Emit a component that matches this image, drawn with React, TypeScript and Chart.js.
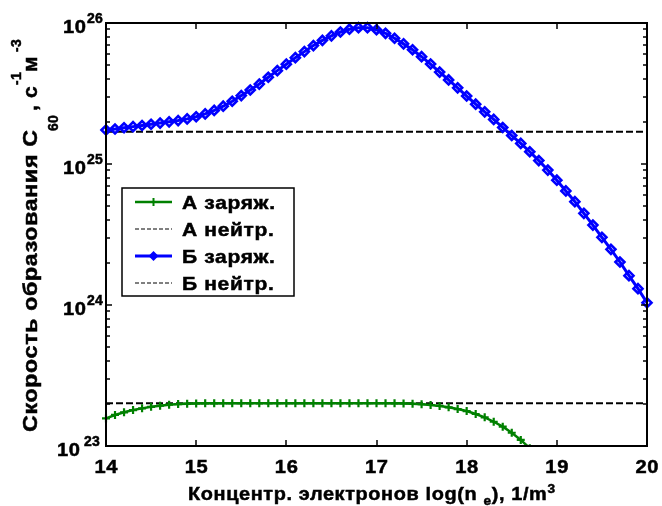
import React, { useEffect, useRef } from "react";
import { Chart, registerables } from "chart.js";

Chart.register(...registerables);

// ---------- data ----------
const X_VALUES = [
  14.0, 14.1, 14.2, 14.3, 14.4, 14.5, 14.6, 14.7, 14.8, 14.9,
  15.0, 15.1, 15.2, 15.3, 15.4, 15.5, 15.6, 15.7, 15.8, 15.9,
  16.0, 16.1, 16.2, 16.3, 16.4, 16.5, 16.6, 16.7, 16.8, 16.9,
  17.0, 17.1, 17.2, 17.3, 17.4, 17.5, 17.6, 17.7, 17.8, 17.9,
  18.0, 18.1, 18.2, 18.3, 18.4, 18.5, 18.6, 18.7, 18.8, 18.9,
  19.0, 19.1, 19.2, 19.3, 19.4, 19.5, 19.6, 19.7, 19.8, 19.9,
  20.0,
];

// "А заряж." (ends where it leaves the axes, ~18.7)
const A_CHARGED = [
  1.57e23, 1.66e23, 1.734e23, 1.799e23, 1.849e23, 1.897e23, 1.932e23, 1.963e23, 1.982e23, 1.995e23,
  2.004e23, 2.007e23, 2.009e23, 2.01e23, 2.01e23, 2.011e23, 2.011e23, 2.011e23, 2.011e23, 2.011e23,
  2.011e23, 2.011e23, 2.011e23, 2.011e23, 2.011e23, 2.011e23, 2.011e23, 2.011e23, 2.011e23, 2.011e23,
  2.011e23, 2.01e23, 2.008e23, 2.003e23, 1.993e23, 1.977e23, 1.954e23, 1.923e23, 1.88e23, 1.828e23,
  1.77e23, 1.687e23, 1.596e23, 1.486e23, 1.371e23, 1.242e23, 1.104e23, 0.964e23,
];

// "Б заряж."
const B_CHARGED = [
  1.742e25, 1.77e25, 1.807e25, 1.841e25, 1.875e25, 1.914e25, 1.95e25, 1.991e25, 2.032e25, 2.089e25,
  2.163e25, 2.265e25, 2.399e25, 2.57e25, 2.786e25, 3.055e25, 3.35e25, 3.69e25, 4.121e25, 4.592e25,
  5.105e25, 5.675e25, 6.266e25, 6.918e25, 7.534e25, 8.11e25, 8.63e25, 9.036e25, 9.268e25, 9.268e25,
  8.954e25, 8.453e25, 7.798e25, 7.112e25, 6.457e25, 5.768e25, 5.117e25, 4.487e25, 3.945e25, 3.467e25,
  3.034e25, 2.655e25, 2.344e25, 2.07e25, 1.816e25, 1.592e25, 1.4e25, 1.222e25, 1.057e25, 9.057e24,
  7.674e24, 6.442e24, 5.408e24, 4.467e24, 3.69e24, 3.02e24, 2.483e24, 2.018e24, 1.614e24, 1.306e24,
  1.038e24,
];

const A_NEUTRAL = 2.01e23; // "А нейтр."
const B_NEUTRAL = 1.69e25; // "Б нейтр."

const SERIES_LABELS = ["А заряж.", "А нейтр.", "Б заряж.", "Б нейтр."];
const X_TICKS = [14, 15, 16, 17, 18, 19, 20];
const X_TICK_LABELS = ["14", "15", "16", "17", "18", "19", "20"];
const Y_DECADES = [23, 24, 25, 26];
const Y_MINOR_MULT = [2, 3, 4, 5, 6, 7, 8, 9];

const X_MIN = 14;
const X_MAX = 20;
const Y_MIN = 1e23;
const Y_MAX = 1e26;

// ---------- styling helpers ----------
const FONT = '"Liberation Sans", Arial, Helvetica, sans-serif';
const GREEN = "#008000";
const BLUE = "#0000ff";
const LS = 0.6; // letter spacing (px)

type Piece = { text: string; size: number; dy?: number; gap?: number };

function setFont(ctx: CanvasRenderingContext2D, size: number) {
  ctx.font = `bold ${size}px ${FONT}`;
}

function natural(ctx: CanvasRenderingContext2D, t: string, size: number) {
  setFont(ctx, size);
  (ctx as any).letterSpacing = "0px";
  return ctx.measureText(t).width;
}

function richWidth(ctx: CanvasRenderingContext2D, pieces: Piece[], ls: number) {
  let w = 0;
  pieces.forEach((p) => {
    w += natural(ctx, p.text, p.size) + ls * p.text.length + (p.gap || 0);
  });
  return w - ls;
}

function fitScale(ctx: CanvasRenderingContext2D, pieces: Piece[], target: number, ls = LS) {
  return target / richWidth(ctx, pieces, ls);
}

function drawRich(
  ctx: CanvasRenderingContext2D,
  pieces: Piece[],
  x: number,
  y: number,
  sx = 1,
  ls = LS
) {
  let cx = x;
  ctx.textAlign = "left";
  ctx.textBaseline = "alphabetic";
  pieces.forEach((p) => {
    cx += (p.gap || 0) * sx;
    ctx.save();
    ctx.translate(cx, y + (p.dy || 0));
    ctx.scale(sx, 1);
    setFont(ctx, p.size);
    (ctx as any).letterSpacing = `${ls}px`;
    ctx.fillText(p.text, 0, 0);
    ctx.lineWidth = 0.5;
    ctx.strokeStyle = ctx.fillStyle;
    ctx.strokeText(p.text, 0, 0);
    ctx.restore();
    cx += (natural(ctx, p.text, p.size) + ls * p.text.length) * sx;
  });
  (ctx as any).letterSpacing = "0px";
}

function line(ctx: CanvasRenderingContext2D, x1: number, y1: number, x2: number, y2: number) {
  ctx.beginPath();
  ctx.moveTo(x1, y1);
  ctx.lineTo(x2, y2);
  ctx.stroke();
}

function diamond(ctx: CanvasRenderingContext2D, x: number, y: number, r: number) {
  ctx.beginPath();
  ctx.moveTo(x, y - r);
  ctx.lineTo(x + r, y);
  ctx.lineTo(x, y + r);
  ctx.lineTo(x - r, y);
  ctx.closePath();
}

const decorPlugin = {
  id: "decor",
  afterDraw(chart: any) {
    const { ctx, chartArea: a, scales } = chart;
    const xs = scales.x;
    const ys = scales.y;
    ctx.save();
    ctx.fillStyle = "#000";
    ctx.strokeStyle = "#000";

    // axes box
    ctx.lineWidth = 2;
    ctx.setLineDash([]);
    ctx.strokeRect(a.left, a.top, a.right - a.left, a.bottom - a.top);

    // x ticks (inward, bottom & top)
    ctx.lineWidth = 1.5;
    X_TICKS.forEach((t) => {
      const px = Math.round(xs.getPixelForValue(t));
      line(ctx, px, a.bottom, px, a.bottom - 6);
      line(ctx, px, a.top, px, a.top + 6);
    });
    // y ticks (inward, left & right)
    Y_DECADES.forEach((d) => {
      const py = Math.round(ys.getPixelForValue(Math.pow(10, d)));
      line(ctx, a.left, py, a.left + 6, py);
      line(ctx, a.right, py, a.right - 6, py);
      if (d < 26) {
        Y_MINOR_MULT.forEach((m) => {
          const pm = Math.round(ys.getPixelForValue(m * Math.pow(10, d)));
          line(ctx, a.left, pm, a.left + 4, pm);
          line(ctx, a.right, pm, a.right - 4, pm);
        });
      }
    });

    ctx.fillStyle = "#000";
    // x tick labels
    X_TICKS.forEach((t, i) => {
      const px = xs.getPixelForValue(t);
      const pieces = [{ text: X_TICK_LABELS[i], size: 19 }];
      const sx = fitScale(ctx, pieces, 23);
      drawRich(ctx, pieces, px - 11.5, a.bottom + 27, sx);
    });

    // y tick labels 10^n
    Y_DECADES.forEach((d) => {
      const py = ys.getPixelForValue(Math.pow(10, d));
      const left = d === 23 ? 57 : 63;
      const supX = d === 23 ? 84 : 87;
      const p10 = [{ text: "10", size: 19 }];
      drawRich(ctx, p10, left, py + 9.5, fitScale(ctx, p10, 23));
      drawRich(ctx, [{ text: String(d), size: 14 }], supX, py - 0.5, 1, 0.3);
    });

    // x title
    const xt: Piece[] = [
      { text: "Концентр. электронов log(n", size: 19 },
      { text: "e", size: 13, dy: 5, gap: 6 },
      { text: "), 1/m", size: 19 },
      { text: "3", size: 13, dy: -7 },
    ];
    drawRich(ctx, xt, 188, 500, fitScale(ctx, xt, 367));

    // y title (rotated)
    ctx.save();
    ctx.translate(37, 432);
    ctx.rotate(-Math.PI / 2);
    const main: Piece[] = [{ text: "Скорость образования С", size: 20 }];
    drawRich(ctx, main, 0, 0, fitScale(ctx, main, 302));
    drawRich(ctx, [{ text: "60", size: 14 }], 301, 21, 1, 0.3);
    drawRich(ctx, [{ text: ",", size: 20 }], 321, 0, 1.05);
    drawRich(ctx, [{ text: "с", size: 20 }], 334, 0, 1.05);
    drawRich(ctx, [{ text: "-1", size: 14 }], 347, -16, 1, 0.3);
    drawRich(ctx, [{ text: "м", size: 20 }], 360, 0, 1.05);
    drawRich(ctx, [{ text: "-3", size: 14 }], 380, -16, 1, 0.3);
    ctx.restore();

    // legend
    const box = { l: 122, t: 188, r: 294, b: 296 };
    ctx.fillStyle = "#fff";
    ctx.fillRect(box.l, box.t, box.r - box.l, box.b - box.t);
    ctx.strokeStyle = "#000";
    ctx.lineWidth = 1.5;
    ctx.strokeRect(box.l, box.t, box.r - box.l, box.b - box.t);
    const rows = [202, 229, 256, 283];
    const ds = chart.data.datasets;
    const lsx = fitScale(ctx, [{ text: SERIES_LABELS[0], size: 19 }], 93);
    SERIES_LABELS.forEach((lbl, i) => {
      const y = rows[i];
      const d = ds[i];
      const x1 = 135;
      const x2 = 172;
      const xc = (x1 + x2) / 2;
      ctx.strokeStyle = d.borderColor;
      if (d.borderDash && d.borderDash.length) {
        ctx.lineWidth = 1;
        ctx.setLineDash([4, 2]);
        line(ctx, x1, y, x2, y);
        ctx.setLineDash([]);
      } else {
        ctx.lineWidth = d.borderWidth;
        line(ctx, x1, y, x2, y);
        if (d.pointStyle === "cross") {
          ctx.lineWidth = 2;
          line(ctx, xc - 4, y, xc + 4, y);
          line(ctx, xc, y - 4, xc, y + 4);
        } else if (d.pointStyle === "rectRot") {
          ctx.fillStyle = d.borderColor;
          diamond(ctx, xc, y, 5);
          ctx.fill();
        }
      }
      ctx.fillStyle = "#000";
      drawRich(ctx, [{ text: lbl, size: 19 }], 182, y + 7, lsx);
    });

    ctx.restore();
  },
};

export default function App() {
  const ref = useRef<HTMLCanvasElement>(null);

  useEffect(() => {
    document.body.style.margin = "0";
    const aData = A_CHARGED.map((v, i) => ({ x: X_VALUES[i], y: v }));
    const bData = B_CHARGED.map((v, i) => ({ x: X_VALUES[i], y: v }));
    const aNeutral = [
      { x: X_MIN, y: A_NEUTRAL },
      { x: X_MAX, y: A_NEUTRAL },
    ];
    const bNeutral = [
      { x: X_MIN, y: B_NEUTRAL },
      { x: X_MAX, y: B_NEUTRAL },
    ];

    const chart = new Chart(ref.current as HTMLCanvasElement, {
      type: "line",
      data: {
        datasets: [
          {
            label: SERIES_LABELS[0],
            data: aData,
            borderColor: GREEN,
            backgroundColor: GREEN,
            borderWidth: 2.5,
            pointStyle: "cross",
            pointRadius: 4,
            pointBorderWidth: 2.2,
            pointBorderColor: GREEN,
            tension: 0,
            order: 0,
            clip: { left: 10, top: 10, right: 10, bottom: 0 } as any,
          },
          {
            label: SERIES_LABELS[1],
            data: aNeutral,
            borderColor: "#000",
            borderWidth: 2,
            borderDash: [7, 3],
            pointRadius: 0,
            order: 1,
          },
          {
            label: SERIES_LABELS[2],
            data: bData,
            borderColor: BLUE,
            backgroundColor: BLUE,
            borderWidth: 3,
            pointStyle: "rectRot",
            pointRadius: 4.5,
            pointBorderWidth: 2.6,
            pointBorderColor: BLUE,
            pointBackgroundColor: "rgba(0,0,255,0)",
            tension: 0,
            order: 0,
            clip: false as any,
          },
          {
            label: SERIES_LABELS[3],
            data: bNeutral,
            borderColor: "#000",
            borderWidth: 2,
            borderDash: [7, 3],
            pointRadius: 0,
            order: 1,
          },
        ],
      },
      options: {
        responsive: false,
        animation: false,
        devicePixelRatio: 1,
        events: [],
        layout: { padding: { left: 106, top: 23, right: 15, bottom: 60 } },
        plugins: {
          legend: { display: false },
          tooltip: { enabled: false },
        },
        scales: {
          x: { type: "linear", min: X_MIN, max: X_MAX, display: false },
          y: { type: "logarithmic", min: Y_MIN, max: Y_MAX, display: false },
        },
      },
      plugins: [decorPlugin],
    });
    return () => chart.destroy();
  }, []);

  return (
    <div style={{ position: "absolute", left: 0, top: 0, width: 662, height: 506, background: "#fff" }}>
      <canvas ref={ref} width={662} height={506} style={{ display: "block", width: 662, height: 506 }} />
    </div>
  );
}
